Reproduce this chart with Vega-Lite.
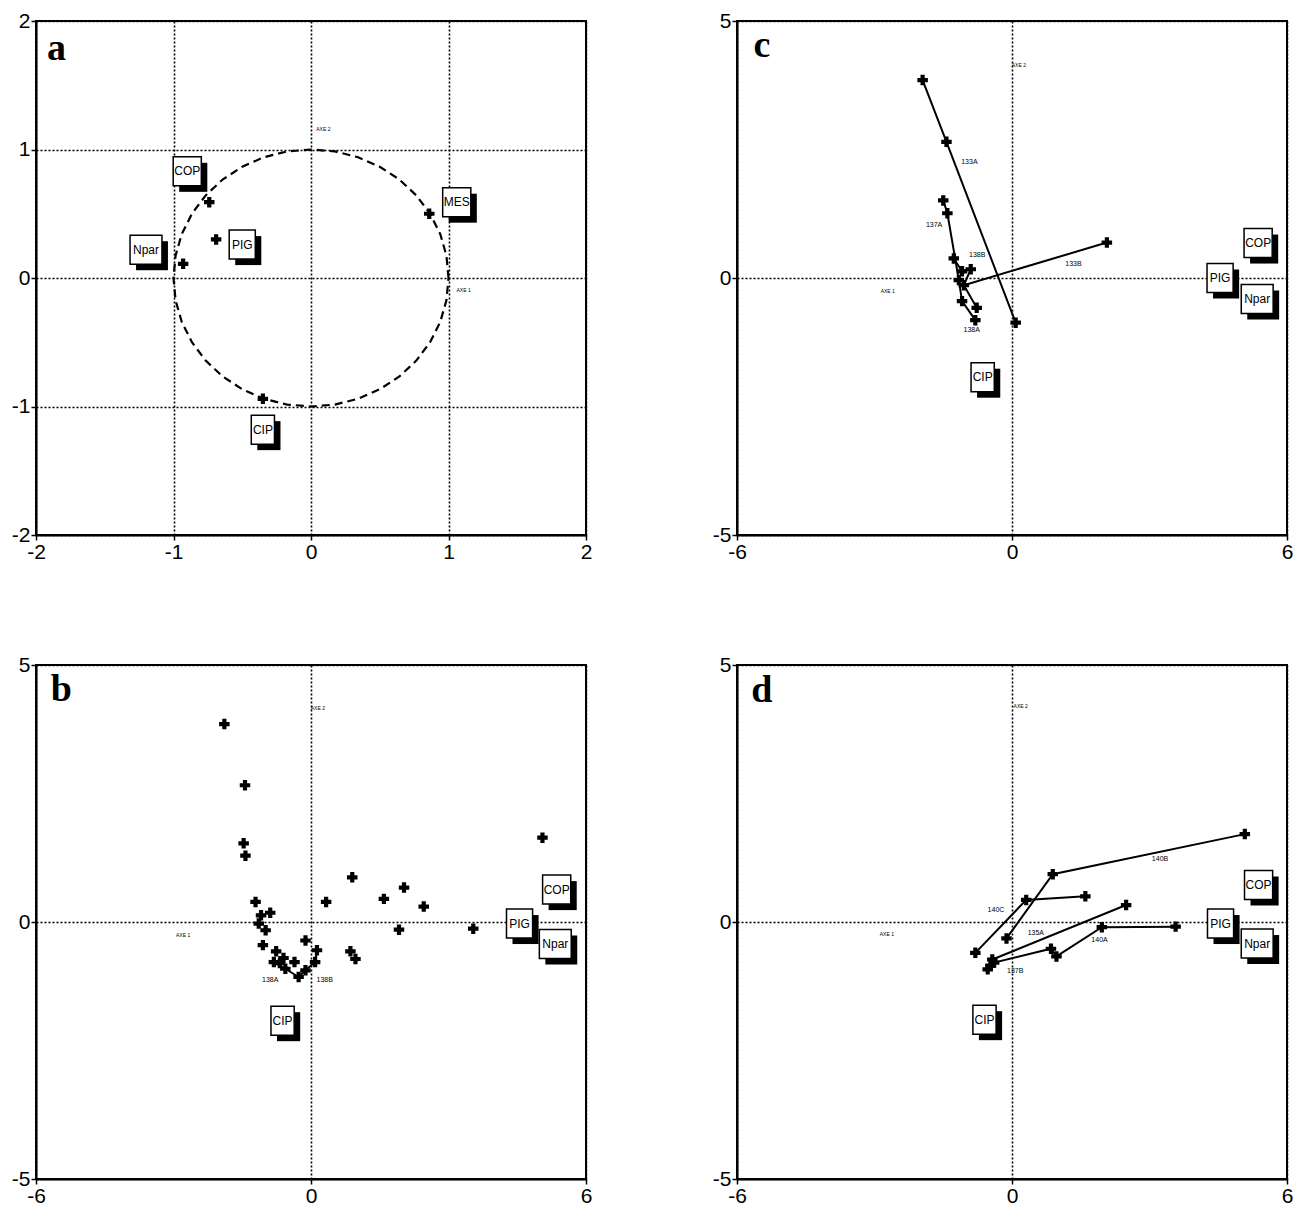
{
  "$schema": "https://vega.github.io/schema/vega-lite/v6.json",
  "background": "white",
  "padding": {"left": 10, "top": 9, "right": 5, "bottom": 5},
  "config": {
    "view": {"stroke": "black", "strokeWidth": 2},
    "axis": {
      "domainColor": "black", "domainWidth": 2,
      "tickColor": "black", "tickSize": 5, "tickWidth": 1.5,
      "labelFont": "Liberation Sans", "labelFontSize": 21, "labelColor": "black",
      "labelFlush": false, "labelOverlap": false, "labelPadding": 1,
      "title": null,
      "grid": true, "gridColor": "black", "gridDash": [2, 2], "gridWidth": 1.6, "gridOpacity": 1
    }
  },
  "datasets": {
    "circle": [
      {"o": 0, "x": 1, "y": 0}, {"o": 1, "x": 0.985, "y": 0.174}, {"o": 2, "x": 0.94, "y": 0.342},
      {"o": 3, "x": 0.866, "y": 0.5}, {"o": 4, "x": 0.766, "y": 0.643}, {"o": 5, "x": 0.643, "y": 0.766},
      {"o": 6, "x": 0.5, "y": 0.866}, {"o": 7, "x": 0.342, "y": 0.94}, {"o": 8, "x": 0.174, "y": 0.985},
      {"o": 9, "x": 0, "y": 1}, {"o": 10, "x": -0.174, "y": 0.985}, {"o": 11, "x": -0.342, "y": 0.94},
      {"o": 12, "x": -0.5, "y": 0.866}, {"o": 13, "x": -0.643, "y": 0.766}, {"o": 14, "x": -0.766, "y": 0.643},
      {"o": 15, "x": -0.866, "y": 0.5}, {"o": 16, "x": -0.94, "y": 0.342}, {"o": 17, "x": -0.985, "y": 0.174},
      {"o": 18, "x": -1, "y": 0}, {"o": 19, "x": -0.985, "y": -0.174}, {"o": 20, "x": -0.94, "y": -0.342},
      {"o": 21, "x": -0.866, "y": -0.5}, {"o": 22, "x": -0.766, "y": -0.643}, {"o": 23, "x": -0.643, "y": -0.766},
      {"o": 24, "x": -0.5, "y": -0.866}, {"o": 25, "x": -0.342, "y": -0.94}, {"o": 26, "x": -0.174, "y": -0.985},
      {"o": 27, "x": 0, "y": -1}, {"o": 28, "x": 0.174, "y": -0.985}, {"o": 29, "x": 0.342, "y": -0.94},
      {"o": 30, "x": 0.5, "y": -0.866}, {"o": 31, "x": 0.643, "y": -0.766}, {"o": 32, "x": 0.766, "y": -0.643},
      {"o": 33, "x": 0.866, "y": -0.5}, {"o": 34, "x": 0.94, "y": -0.342}, {"o": 35, "x": 0.985, "y": -0.174},
      {"o": 36, "x": 1, "y": 0}
    ],
    "pts": [
      {"p": "a", "x": -0.74, "y": 0.59}, {"p": "a", "x": -0.69, "y": 0.3}, {"p": "a", "x": -0.93, "y": 0.11},
      {"p": "a", "x": 0.86, "y": 0.5}, {"p": "a", "x": -0.35, "y": -0.94},
      {"p": "b", "x": -1.89, "y": 3.85}, {"p": "b", "x": -1.44, "y": 2.66}, {"p": "b", "x": -1.47, "y": 1.53},
      {"p": "b", "x": -1.43, "y": 1.29}, {"p": "b", "x": -1.21, "y": 0.39}, {"p": "b", "x": 5.05, "y": 1.64},
      {"p": "b", "x": 0.9, "y": 0.87}, {"p": "b", "x": 2.03, "y": 0.67}, {"p": "b", "x": 1.59, "y": 0.45},
      {"p": "b", "x": 2.46, "y": 0.3}, {"p": "b", "x": 0.33, "y": 0.39}, {"p": "b", "x": 1.92, "y": -0.15},
      {"p": "b", "x": 3.54, "y": -0.13}, {"p": "b", "x": 0.86, "y": -0.57}, {"p": "b", "x": 0.97, "y": -0.72},
      {"p": "b", "x": -1.09, "y": 0.13}, {"p": "b", "x": -0.89, "y": 0.18}, {"p": "b", "x": -1.14, "y": -0.03},
      {"p": "b", "x": -0.99, "y": -0.16}, {"p": "b", "x": -0.12, "y": -0.36}, {"p": "b", "x": -1.05, "y": -0.45},
      {"p": "b", "x": 0.13, "y": -0.55}, {"p": "b", "x": -0.76, "y": -0.57}, {"p": "b", "x": -0.81, "y": -0.78},
      {"p": "b", "x": -0.68, "y": -0.8}, {"p": "b", "x": -0.56, "y": -0.91}, {"p": "b", "x": -0.36, "y": -0.78},
      {"p": "b", "x": -0.12, "y": -0.94}, {"p": "b", "x": 0.09, "y": -0.78}, {"p": "b", "x": -0.27, "y": -1.07},
      {"p": "b", "x": -0.6, "y": -0.7},
      {"p": "c", "x": -1.95, "y": 3.85}, {"p": "c", "x": -1.43, "y": 2.65}, {"p": "c", "x": 0.08, "y": -0.87},
      {"p": "c", "x": 2.07, "y": 0.69}, {"p": "c", "x": -1.5, "y": 1.51}, {"p": "c", "x": -1.41, "y": 1.26},
      {"p": "c", "x": -1.16, "y": -0.04}, {"p": "c", "x": -1.09, "y": -0.45}, {"p": "c", "x": -0.8, "y": -0.82},
      {"p": "c", "x": -1.27, "y": 0.38}, {"p": "c", "x": -1.09, "y": 0.13}, {"p": "c", "x": -0.9, "y": 0.17},
      {"p": "c", "x": -1.05, "y": -0.14}, {"p": "c", "x": -0.77, "y": -0.58},
      {"p": "d", "x": -0.12, "y": -0.32}, {"p": "d", "x": 0.89, "y": 0.93}, {"p": "d", "x": 5.08, "y": 1.71},
      {"p": "d", "x": -0.8, "y": -0.6}, {"p": "d", "x": 0.31, "y": 0.43}, {"p": "d", "x": 1.6, "y": 0.5},
      {"p": "d", "x": -0.43, "y": -0.73}, {"p": "d", "x": 2.49, "y": 0.33}, {"p": "d", "x": -0.39, "y": -0.79},
      {"p": "d", "x": 0.85, "y": -0.52}, {"p": "d", "x": 0.97, "y": -0.67}, {"p": "d", "x": 1.96, "y": -0.1},
      {"p": "d", "x": 3.57, "y": -0.09}, {"p": "d", "x": -0.53, "y": -0.92}, {"p": "d", "x": -0.47, "y": -0.85}
    ],
    "lines": [
      {"p": "b", "s": "b1", "o": 1, "x": -0.81, "y": -0.78}, {"p": "b", "s": "b1", "o": 2, "x": -0.56, "y": -0.91},
      {"p": "b", "s": "b1", "o": 3, "x": -0.27, "y": -1.07}, {"p": "b", "s": "b1", "o": 4, "x": -0.12, "y": -0.94},
      {"p": "b", "s": "b1", "o": 5, "x": 0.09, "y": -0.78}, {"p": "b", "s": "b1", "o": 6, "x": 0.13, "y": -0.55},
      {"p": "c", "s": "133A", "o": 1, "x": -1.95, "y": 3.85}, {"p": "c", "s": "133A", "o": 2, "x": -1.43, "y": 2.65},
      {"p": "c", "s": "133A", "o": 3, "x": 0.08, "y": -0.87},
      {"p": "c", "s": "133B", "o": 1, "x": -1.05, "y": -0.14}, {"p": "c", "s": "133B", "o": 2, "x": 2.07, "y": 0.69},
      {"p": "c", "s": "137A", "o": 1, "x": -1.5, "y": 1.51}, {"p": "c", "s": "137A", "o": 2, "x": -1.41, "y": 1.26},
      {"p": "c", "s": "137A", "o": 3, "x": -1.16, "y": -0.04}, {"p": "c", "s": "137A", "o": 4, "x": -1.09, "y": -0.45},
      {"p": "c", "s": "137A", "o": 5, "x": -0.8, "y": -0.82},
      {"p": "c", "s": "138", "o": 1, "x": -1.27, "y": 0.38}, {"p": "c", "s": "138", "o": 2, "x": -1.09, "y": 0.13},
      {"p": "c", "s": "138", "o": 3, "x": -0.9, "y": 0.17}, {"p": "c", "s": "138", "o": 4, "x": -1.05, "y": -0.14},
      {"p": "c", "s": "138", "o": 5, "x": -0.77, "y": -0.58},
      {"p": "d", "s": "140B", "o": 1, "x": -0.12, "y": -0.32}, {"p": "d", "s": "140B", "o": 2, "x": 0.89, "y": 0.93},
      {"p": "d", "s": "140B", "o": 3, "x": 5.08, "y": 1.71},
      {"p": "d", "s": "140C", "o": 1, "x": -0.8, "y": -0.6}, {"p": "d", "s": "140C", "o": 2, "x": 0.31, "y": 0.43},
      {"p": "d", "s": "140C", "o": 3, "x": 1.6, "y": 0.5},
      {"p": "d", "s": "135A", "o": 1, "x": -0.43, "y": -0.73}, {"p": "d", "s": "135A", "o": 2, "x": 2.49, "y": 0.33},
      {"p": "d", "s": "140A", "o": 1, "x": -0.53, "y": -0.92}, {"p": "d", "s": "140A", "o": 2, "x": -0.39, "y": -0.79},
      {"p": "d", "s": "140A", "o": 3, "x": 0.85, "y": -0.52}, {"p": "d", "s": "140A", "o": 4, "x": 0.97, "y": -0.67},
      {"p": "d", "s": "140A", "o": 5, "x": 1.96, "y": -0.1}, {"p": "d", "s": "140A", "o": 6, "x": 3.57, "y": -0.09}
    ],
    "boxes": [
      {"p": "a", "label": "COP", "x": -0.9, "y": 0.83}, {"p": "a", "label": "Npar", "x": -1.2, "y": 0.22},
      {"p": "a", "label": "PIG", "x": -0.5, "y": 0.26}, {"p": "a", "label": "MES", "x": 1.06, "y": 0.59},
      {"p": "a", "label": "CIP", "x": -0.35, "y": -1.18},
      {"p": "b", "label": "COP", "x": 5.36, "y": 0.63}, {"p": "b", "label": "PIG", "x": 4.55, "y": -0.03},
      {"p": "b", "label": "Npar", "x": 5.33, "y": -0.43}, {"p": "b", "label": "CIP", "x": -0.62, "y": -1.92},
      {"p": "c", "label": "COP", "x": 5.37, "y": 0.68}, {"p": "c", "label": "PIG", "x": 4.54, "y": 0.0},
      {"p": "c", "label": "Npar", "x": 5.35, "y": -0.41}, {"p": "c", "label": "CIP", "x": -0.64, "y": -1.93},
      {"p": "d", "label": "COP", "x": 5.38, "y": 0.72}, {"p": "d", "label": "PIG", "x": 4.55, "y": -0.03},
      {"p": "d", "label": "Npar", "x": 5.35, "y": -0.42}, {"p": "d", "label": "CIP", "x": -0.6, "y": -1.9}
    ],
    "notes": [
      {"p": "a", "k": "axe", "t": "AXE 2", "x": 0.09, "y": 1.16}, {"p": "a", "k": "axe", "t": "AXE 1", "x": 1.11, "y": -0.09},
      {"p": "b", "k": "axe", "t": "AXE 2", "x": 0.15, "y": 4.16}, {"p": "b", "k": "axe", "t": "AXE 1", "x": -2.79, "y": -0.26},
      {"p": "c", "k": "axe", "t": "AXE 2", "x": 0.15, "y": 4.15}, {"p": "c", "k": "axe", "t": "AXE 1", "x": -2.71, "y": -0.26},
      {"p": "d", "k": "axe", "t": "AXE 2", "x": 0.19, "y": 4.2}, {"p": "d", "k": "axe", "t": "AXE 1", "x": -2.73, "y": -0.24},
      {"p": "b", "k": "ser", "t": "138A", "x": -0.89, "y": -1.12}, {"p": "b", "k": "ser", "t": "138B", "x": 0.3, "y": -1.12},
      {"p": "c", "k": "ser", "t": "133A", "x": -0.93, "y": 2.26}, {"p": "c", "k": "ser", "t": "133B", "x": 1.34, "y": 0.28},
      {"p": "c", "k": "ser", "t": "137A", "x": -1.7, "y": 1.03}, {"p": "c", "k": "ser", "t": "138B", "x": -0.76, "y": 0.45},
      {"p": "c", "k": "ser", "t": "138A", "x": -0.88, "y": -1.02},
      {"p": "d", "k": "ser", "t": "140B", "x": 3.23, "y": 1.22}, {"p": "d", "k": "ser", "t": "140C", "x": -0.35, "y": 0.24},
      {"p": "d", "k": "ser", "t": "135A", "x": 0.52, "y": -0.21}, {"p": "d", "k": "ser", "t": "140A", "x": 1.91, "y": -0.35},
      {"p": "d", "k": "ser", "t": "137B", "x": 0.07, "y": -0.95}
    ],
    "letters": [
      {"p": "a", "t": "a", "x": -1.92, "y": 1.7}, {"p": "b", "t": "b", "x": -5.68, "y": 4.3},
      {"p": "c", "t": "c", "x": -5.64, "y": 4.3}, {"p": "d", "t": "d", "x": -5.69, "y": 4.28}
    ]
  },
  "columns": 2,
  "spacing": {"row": 130, "column": 151},
  "bounds": "flush",
  "concat": [
    {
      "width": 550, "height": 514,
      "layer": [
        {"data": {"name": "circle"}, "mark": {"type": "line", "color": "black", "strokeWidth": 2.2, "strokeDash": [8, 5]},
         "encoding": {"x": {"field": "x", "type": "quantitative", "scale": {"domain": [-2, 2], "nice": false, "zero": false}, "axis": {"values": [-2, -1, 0, 1, 2], "labelExpr": "'' + datum.value"}},
                      "y": {"field": "y", "type": "quantitative", "scale": {"domain": [-2, 2], "nice": false, "zero": false}, "axis": {"values": [-2, -1, 0, 1, 2], "labelExpr": "'' + datum.value"}},
                      "order": {"field": "o"}}},
        {"data": {"name": "pts"}, "transform": [{"filter": "datum.p == 'a'"}], "mark": {"type": "point", "shape": "cross", "filled": true, "color": "black", "opacity": 1, "size": 110},
         "encoding": {"x": {"field": "x", "type": "quantitative"}, "y": {"field": "y", "type": "quantitative"}}},
        {"data": {"name": "boxes"}, "transform": [{"filter": "datum.p == 'a'"}], "mark": {"type": "point", "filled": true, "color": "black", "opacity": 1, "size": 841, "xOffset": 6, "yOffset": 6},
         "encoding": {"x": {"field": "x", "type": "quantitative"}, "y": {"field": "y", "type": "quantitative"},
                      "shape": {"field": "label", "type": "nominal", "legend": null, "scale": {"domain": ["Npar", "COP", "PIG", "CIP", "MES"], "range": ["M-1.1,-1H1.1V1H-1.1Z", "M-0.97,-1H0.97V1H-0.97Z", "M-0.9,-1H0.9V1H-0.9Z", "M-0.8,-1H0.8V1H-0.8Z", "M-0.97,-1H0.97V1H-0.97Z"]}}}},
        {"data": {"name": "boxes"}, "transform": [{"filter": "datum.p == 'a'"}], "mark": {"type": "point", "filled": true, "fill": "white", "stroke": "black", "strokeWidth": 1.5, "opacity": 1, "size": 841},
         "encoding": {"x": {"field": "x", "type": "quantitative"}, "y": {"field": "y", "type": "quantitative"},
                      "shape": {"field": "label", "type": "nominal", "legend": null, "scale": {"domain": ["Npar", "COP", "PIG", "CIP", "MES"], "range": ["M-1.1,-1H1.1V1H-1.1Z", "M-0.97,-1H0.97V1H-0.97Z", "M-0.9,-1H0.9V1H-0.9Z", "M-0.8,-1H0.8V1H-0.8Z", "M-0.97,-1H0.97V1H-0.97Z"]}}}},
        {"data": {"name": "boxes"}, "transform": [{"filter": "datum.p == 'a'"}], "mark": {"type": "text", "font": "Liberation Sans", "fontSize": 12, "color": "black"},
         "encoding": {"x": {"field": "x", "type": "quantitative"}, "y": {"field": "y", "type": "quantitative"}, "text": {"field": "label"}}},
        {"data": {"name": "notes"}, "transform": [{"filter": "datum.p == 'a' && datum.k == 'axe'"}], "mark": {"type": "text", "font": "Liberation Sans", "fontSize": 5, "color": "black"},
         "encoding": {"x": {"field": "x", "type": "quantitative"}, "y": {"field": "y", "type": "quantitative"}, "text": {"field": "t"}}},
        {"data": {"name": "letters"}, "transform": [{"filter": "datum.p == 'a'"}], "mark": {"type": "text", "font": "Liberation Serif", "fontWeight": "bold", "fontSize": 38, "color": "black", "align": "left", "baseline": "alphabetic"},
         "encoding": {"x": {"field": "x", "type": "quantitative"}, "y": {"field": "y", "type": "quantitative"}, "text": {"field": "t"}}}
      ]
    },
    {
      "width": 550, "height": 514,
      "layer": [
        {"data": {"name": "lines"}, "transform": [{"filter": "datum.p == 'c'"}], "mark": {"type": "line", "color": "black", "strokeWidth": 2},
         "encoding": {"x": {"field": "x", "type": "quantitative", "scale": {"domain": [-6, 6], "nice": false, "zero": false}, "axis": {"values": [-6, 0, 6], "labelExpr": "'' + datum.value"}},
                      "y": {"field": "y", "type": "quantitative", "scale": {"domain": [-5, 5], "nice": false, "zero": false}, "axis": {"values": [-5, 0, 5], "labelExpr": "'' + datum.value"}},
                      "detail": {"field": "s"}, "order": {"field": "o"}}},
        {"data": {"name": "pts"}, "transform": [{"filter": "datum.p == 'c'"}], "mark": {"type": "point", "shape": "cross", "filled": true, "color": "black", "opacity": 1, "size": 110},
         "encoding": {"x": {"field": "x", "type": "quantitative"}, "y": {"field": "y", "type": "quantitative"}}},
        {"data": {"name": "boxes"}, "transform": [{"filter": "datum.p == 'c'"}], "mark": {"type": "point", "filled": true, "color": "black", "opacity": 1, "size": 841, "xOffset": 6, "yOffset": 6},
         "encoding": {"x": {"field": "x", "type": "quantitative"}, "y": {"field": "y", "type": "quantitative"},
                      "shape": {"field": "label", "type": "nominal", "legend": null, "scale": {"domain": ["Npar", "COP", "PIG", "CIP", "MES"], "range": ["M-1.1,-1H1.1V1H-1.1Z", "M-0.97,-1H0.97V1H-0.97Z", "M-0.9,-1H0.9V1H-0.9Z", "M-0.8,-1H0.8V1H-0.8Z", "M-0.97,-1H0.97V1H-0.97Z"]}}}},
        {"data": {"name": "boxes"}, "transform": [{"filter": "datum.p == 'c'"}], "mark": {"type": "point", "filled": true, "fill": "white", "stroke": "black", "strokeWidth": 1.5, "opacity": 1, "size": 841},
         "encoding": {"x": {"field": "x", "type": "quantitative"}, "y": {"field": "y", "type": "quantitative"},
                      "shape": {"field": "label", "type": "nominal", "legend": null, "scale": {"domain": ["Npar", "COP", "PIG", "CIP", "MES"], "range": ["M-1.1,-1H1.1V1H-1.1Z", "M-0.97,-1H0.97V1H-0.97Z", "M-0.9,-1H0.9V1H-0.9Z", "M-0.8,-1H0.8V1H-0.8Z", "M-0.97,-1H0.97V1H-0.97Z"]}}}},
        {"data": {"name": "boxes"}, "transform": [{"filter": "datum.p == 'c'"}], "mark": {"type": "text", "font": "Liberation Sans", "fontSize": 12, "color": "black"},
         "encoding": {"x": {"field": "x", "type": "quantitative"}, "y": {"field": "y", "type": "quantitative"}, "text": {"field": "label"}}},
        {"data": {"name": "notes"}, "transform": [{"filter": "datum.p == 'c' && datum.k == 'axe'"}], "mark": {"type": "text", "font": "Liberation Sans", "fontSize": 5, "color": "black"},
         "encoding": {"x": {"field": "x", "type": "quantitative"}, "y": {"field": "y", "type": "quantitative"}, "text": {"field": "t"}}},
        {"data": {"name": "notes"}, "transform": [{"filter": "datum.p == 'c' && datum.k == 'ser'"}], "mark": {"type": "text", "font": "Liberation Sans", "fontSize": 7, "color": "black"},
         "encoding": {"x": {"field": "x", "type": "quantitative"}, "y": {"field": "y", "type": "quantitative"}, "text": {"field": "t"}}},
        {"data": {"name": "letters"}, "transform": [{"filter": "datum.p == 'c'"}], "mark": {"type": "text", "font": "Liberation Serif", "fontWeight": "bold", "fontSize": 38, "color": "black", "align": "left", "baseline": "alphabetic"},
         "encoding": {"x": {"field": "x", "type": "quantitative"}, "y": {"field": "y", "type": "quantitative"}, "text": {"field": "t"}}}
      ]
    },
    {
      "width": 550, "height": 514,
      "layer": [
        {"data": {"name": "lines"}, "transform": [{"filter": "datum.p == 'b'"}], "mark": {"type": "line", "color": "black", "strokeWidth": 2},
         "encoding": {"x": {"field": "x", "type": "quantitative", "scale": {"domain": [-6, 6], "nice": false, "zero": false}, "axis": {"values": [-6, 0, 6], "labelExpr": "'' + datum.value"}},
                      "y": {"field": "y", "type": "quantitative", "scale": {"domain": [-5, 5], "nice": false, "zero": false}, "axis": {"values": [-5, 0, 5], "labelExpr": "'' + datum.value"}},
                      "detail": {"field": "s"}, "order": {"field": "o"}}},
        {"data": {"name": "pts"}, "transform": [{"filter": "datum.p == 'b'"}], "mark": {"type": "point", "shape": "cross", "filled": true, "color": "black", "opacity": 1, "size": 110},
         "encoding": {"x": {"field": "x", "type": "quantitative"}, "y": {"field": "y", "type": "quantitative"}}},
        {"data": {"name": "boxes"}, "transform": [{"filter": "datum.p == 'b'"}], "mark": {"type": "point", "filled": true, "color": "black", "opacity": 1, "size": 841, "xOffset": 6, "yOffset": 6},
         "encoding": {"x": {"field": "x", "type": "quantitative"}, "y": {"field": "y", "type": "quantitative"},
                      "shape": {"field": "label", "type": "nominal", "legend": null, "scale": {"domain": ["Npar", "COP", "PIG", "CIP", "MES"], "range": ["M-1.1,-1H1.1V1H-1.1Z", "M-0.97,-1H0.97V1H-0.97Z", "M-0.9,-1H0.9V1H-0.9Z", "M-0.8,-1H0.8V1H-0.8Z", "M-0.97,-1H0.97V1H-0.97Z"]}}}},
        {"data": {"name": "boxes"}, "transform": [{"filter": "datum.p == 'b'"}], "mark": {"type": "point", "filled": true, "fill": "white", "stroke": "black", "strokeWidth": 1.5, "opacity": 1, "size": 841},
         "encoding": {"x": {"field": "x", "type": "quantitative"}, "y": {"field": "y", "type": "quantitative"},
                      "shape": {"field": "label", "type": "nominal", "legend": null, "scale": {"domain": ["Npar", "COP", "PIG", "CIP", "MES"], "range": ["M-1.1,-1H1.1V1H-1.1Z", "M-0.97,-1H0.97V1H-0.97Z", "M-0.9,-1H0.9V1H-0.9Z", "M-0.8,-1H0.8V1H-0.8Z", "M-0.97,-1H0.97V1H-0.97Z"]}}}},
        {"data": {"name": "boxes"}, "transform": [{"filter": "datum.p == 'b'"}], "mark": {"type": "text", "font": "Liberation Sans", "fontSize": 12, "color": "black"},
         "encoding": {"x": {"field": "x", "type": "quantitative"}, "y": {"field": "y", "type": "quantitative"}, "text": {"field": "label"}}},
        {"data": {"name": "notes"}, "transform": [{"filter": "datum.p == 'b' && datum.k == 'axe'"}], "mark": {"type": "text", "font": "Liberation Sans", "fontSize": 5, "color": "black"},
         "encoding": {"x": {"field": "x", "type": "quantitative"}, "y": {"field": "y", "type": "quantitative"}, "text": {"field": "t"}}},
        {"data": {"name": "notes"}, "transform": [{"filter": "datum.p == 'b' && datum.k == 'ser'"}], "mark": {"type": "text", "font": "Liberation Sans", "fontSize": 7, "color": "black"},
         "encoding": {"x": {"field": "x", "type": "quantitative"}, "y": {"field": "y", "type": "quantitative"}, "text": {"field": "t"}}},
        {"data": {"name": "letters"}, "transform": [{"filter": "datum.p == 'b'"}], "mark": {"type": "text", "font": "Liberation Serif", "fontWeight": "bold", "fontSize": 38, "color": "black", "align": "left", "baseline": "alphabetic"},
         "encoding": {"x": {"field": "x", "type": "quantitative"}, "y": {"field": "y", "type": "quantitative"}, "text": {"field": "t"}}}
      ]
    },
    {
      "width": 550, "height": 514,
      "layer": [
        {"data": {"name": "lines"}, "transform": [{"filter": "datum.p == 'd'"}], "mark": {"type": "line", "color": "black", "strokeWidth": 2},
         "encoding": {"x": {"field": "x", "type": "quantitative", "scale": {"domain": [-6, 6], "nice": false, "zero": false}, "axis": {"values": [-6, 0, 6], "labelExpr": "'' + datum.value"}},
                      "y": {"field": "y", "type": "quantitative", "scale": {"domain": [-5, 5], "nice": false, "zero": false}, "axis": {"values": [-5, 0, 5], "labelExpr": "'' + datum.value"}},
                      "detail": {"field": "s"}, "order": {"field": "o"}}},
        {"data": {"name": "pts"}, "transform": [{"filter": "datum.p == 'd'"}], "mark": {"type": "point", "shape": "cross", "filled": true, "color": "black", "opacity": 1, "size": 110},
         "encoding": {"x": {"field": "x", "type": "quantitative"}, "y": {"field": "y", "type": "quantitative"}}},
        {"data": {"name": "boxes"}, "transform": [{"filter": "datum.p == 'd'"}], "mark": {"type": "point", "filled": true, "color": "black", "opacity": 1, "size": 841, "xOffset": 6, "yOffset": 6},
         "encoding": {"x": {"field": "x", "type": "quantitative"}, "y": {"field": "y", "type": "quantitative"},
                      "shape": {"field": "label", "type": "nominal", "legend": null, "scale": {"domain": ["Npar", "COP", "PIG", "CIP", "MES"], "range": ["M-1.1,-1H1.1V1H-1.1Z", "M-0.97,-1H0.97V1H-0.97Z", "M-0.9,-1H0.9V1H-0.9Z", "M-0.8,-1H0.8V1H-0.8Z", "M-0.97,-1H0.97V1H-0.97Z"]}}}},
        {"data": {"name": "boxes"}, "transform": [{"filter": "datum.p == 'd'"}], "mark": {"type": "point", "filled": true, "fill": "white", "stroke": "black", "strokeWidth": 1.5, "opacity": 1, "size": 841},
         "encoding": {"x": {"field": "x", "type": "quantitative"}, "y": {"field": "y", "type": "quantitative"},
                      "shape": {"field": "label", "type": "nominal", "legend": null, "scale": {"domain": ["Npar", "COP", "PIG", "CIP", "MES"], "range": ["M-1.1,-1H1.1V1H-1.1Z", "M-0.97,-1H0.97V1H-0.97Z", "M-0.9,-1H0.9V1H-0.9Z", "M-0.8,-1H0.8V1H-0.8Z", "M-0.97,-1H0.97V1H-0.97Z"]}}}},
        {"data": {"name": "boxes"}, "transform": [{"filter": "datum.p == 'd'"}], "mark": {"type": "text", "font": "Liberation Sans", "fontSize": 12, "color": "black"},
         "encoding": {"x": {"field": "x", "type": "quantitative"}, "y": {"field": "y", "type": "quantitative"}, "text": {"field": "label"}}},
        {"data": {"name": "notes"}, "transform": [{"filter": "datum.p == 'd' && datum.k == 'axe'"}], "mark": {"type": "text", "font": "Liberation Sans", "fontSize": 5, "color": "black"},
         "encoding": {"x": {"field": "x", "type": "quantitative"}, "y": {"field": "y", "type": "quantitative"}, "text": {"field": "t"}}},
        {"data": {"name": "notes"}, "transform": [{"filter": "datum.p == 'd' && datum.k == 'ser'"}], "mark": {"type": "text", "font": "Liberation Sans", "fontSize": 7, "color": "black"},
         "encoding": {"x": {"field": "x", "type": "quantitative"}, "y": {"field": "y", "type": "quantitative"}, "text": {"field": "t"}}},
        {"data": {"name": "letters"}, "transform": [{"filter": "datum.p == 'd'"}], "mark": {"type": "text", "font": "Liberation Serif", "fontWeight": "bold", "fontSize": 38, "color": "black", "align": "left", "baseline": "alphabetic"},
         "encoding": {"x": {"field": "x", "type": "quantitative"}, "y": {"field": "y", "type": "quantitative"}, "text": {"field": "t"}}}
      ]
    }
  ]
}
